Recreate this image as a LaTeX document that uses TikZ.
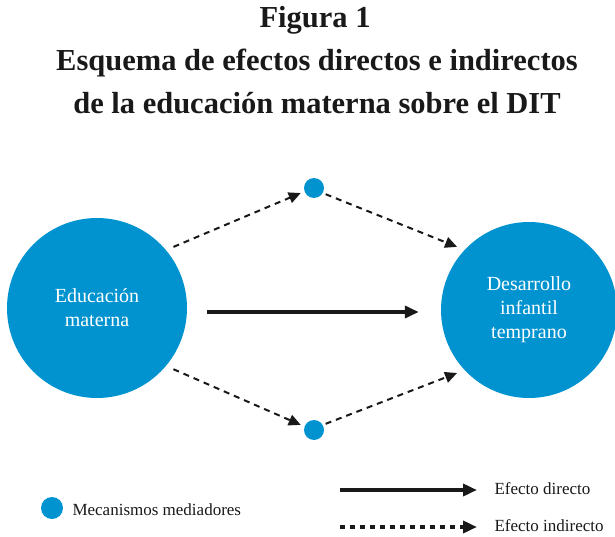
\documentclass[tikz,border=0pt]{standalone}
\usepackage{fontspec}
\setmainfont{Liberation Serif}
\usetikzlibrary{arrows.meta}
\definecolor{dotblue}{HTML}{0093D0}
\begin{document}
\begin{tikzpicture}[x=1pt,y=-1pt,
  bigc/.style={circle,fill=dotblue,inner sep=0pt,minimum size=180pt,text=white,align=center,font=\fontsize{20}{24}\selectfont},
  smallc/.style={circle,fill=dotblue,inner sep=0pt,minimum size=20pt},
  ttl/.style={font=\fontsize{30.5}{34}\selectfont\bfseries,text=black!90},
  leg/.style={font=\fontsize{17}{20}\selectfont,anchor=west,text=black!90},
  direct/.style={line width=3.5pt,draw=black!90,-{Triangle[length=14pt,width=12pt]}},
  indirect/.style={line width=2pt,draw=black!90,dash pattern=on 6pt off 5pt,-{Triangle[length=12pt,width=11pt]}},
  legdash/.style={line width=3.5pt,draw=black!90,dash pattern=on 5pt off 5pt,-{Triangle[length=14pt,width=12pt]}}]
\useasboundingbox (0,0) rectangle (615,537);
\node[ttl] (t1) at (315,20) {Figura 1};
\node[ttl] (t2) at (317,63) {Esquema de efectos directos e indirectos};
\node[ttl] (t3) at (317,103) {de la educación materna sobre el DIT};

\node[bigc] (L) at (97,308) {Educación\\materna};
\node[bigc,minimum size=176pt] (R) at (529,310) {Desarrollo\\infantil\\temprano};
\node[smallc] (T) at (314,188) {};
\node[smallc] (B) at (314,430) {};

\draw[direct,shorten <=20pt,shorten >=22pt] ([yshift=-4pt]L.east) -- ([yshift=-4pt]L.east -| R.west);
\draw[indirect,shorten <=8pt,shorten >=4pt] (L.40) -- (T.200);
\draw[indirect,shorten <=3pt,shorten >=8pt] (T.-30) -- (R.137);
\draw[indirect,shorten <=8pt,shorten >=4pt] (L.-40) -- (B.160);
\draw[indirect,shorten <=3pt,shorten >=8pt] (B.30) -- (R.-137);

\node[smallc,minimum size=22pt] (ld) at (52,508) {};
\node[leg] (lt) at (69,510) {Mecanismos mediadores};
\coordinate (a1) at (340,490);
\coordinate (a2) at (477,490);
\coordinate (b1) at (340,527);
\coordinate (b2) at (477,527);
\draw[direct] (a1) -- (a2);
\draw[legdash] (b1) -- (b2);
\node[leg] (e1) at (491,489) {Efecto directo};
\node[leg] (e2) at (491,526) {Efecto indirecto};
\end{tikzpicture}
\end{document}
